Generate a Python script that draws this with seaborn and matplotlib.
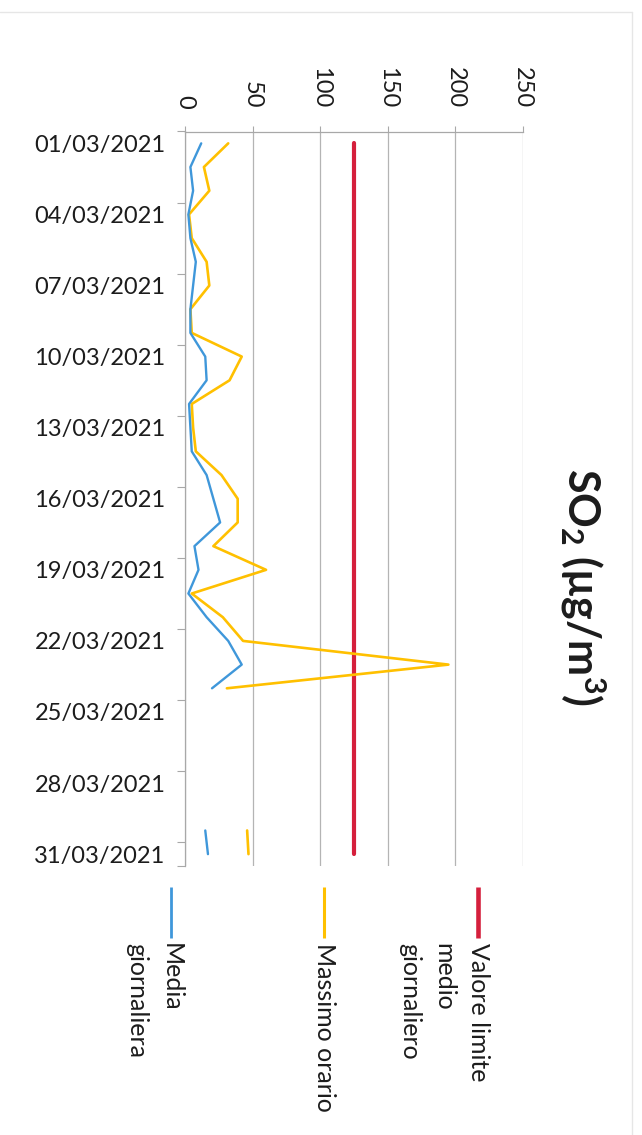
import numpy as np
import pandas as pd
import matplotlib
matplotlib.use("Agg")
import matplotlib.pyplot as plt
from matplotlib.lines import Line2D
import seaborn as sns

# ---- data -------------------------------------------------------------
day_idx = list(range(1, 32))
date_labels = [f"{d:02d}/03/2021" for d in day_idx]

massimo_orario = [32, 14, 18, 3, 5, 16, 18, 4, 5, 42, 33, 5, 6, 8, 27, 39,
                  39, 21, 60, 5, 28, 43, 195, 31,
                  np.nan, np.nan, np.nan, np.nan, np.nan, 46, 47]
media_giornaliera = [12, 4, 6, 2.5, 4, 8, 6, 4, 4, 15, 16, 3, 4, 5, 16, 21,
                     26, 7, 10, 2.5, 16, 32, 42, 20,
                     np.nan, np.nan, np.nan, np.nan, np.nan, 15, 17]
valore_limite = [125] * 31

series_names = ["Valore limite\nmedio\ngiornaliero", "Massimo orario",
                "Media\ngiornaliera"]
series_colors = ["#D51F3C", "#FFC000", "#3F97DA"]
series_widths = [3.0, 1.9, 1.7]
value_ticks = [0, 50, 100, 150, 200, 250]


def long_form(values):
    s = pd.Series(values, dtype=float)
    seg = s.isna().cumsum()
    df = pd.DataFrame({"day": day_idx, "value": s.values, "segment": seg.values})
    return df.dropna()


# ---- style ------------------------------------------------------------
sns.set_theme(style="white")
plt.rcParams["font.family"] = ["Lato", "DejaVu Sans"]
plt.rcParams["mathtext.fontset"] = "custom"
plt.rcParams["mathtext.rm"] = "Lato"
plt.rcParams["mathtext.bf"] = "Lato:bold"
text_color = "#1c1c1c"
axis_gray = "#a8a8a8"

W, H = 642, 1135
fig = plt.figure(figsize=(W / 100, H / 100), dpi=100)
fig.patch.set_facecolor("white")

ax = fig.add_axes([185 / W, 1 - 866 / H, (522.7 - 185) / W, (866 - 131.5) / H])

for values, color, lw in zip([valore_limite, massimo_orario, media_giornaliera],
                             series_colors, series_widths):
    sns.lineplot(data=long_form(values), x="value", y="day", units="segment",
                 estimator=None, orient="y", sort=True, color=color,
                 linewidth=lw, ax=ax, legend=False)

ax.set_xlim(0, 250)
ax.set_ylim(31.5, 0.5)
ax.set_xlabel("")
ax.set_ylabel("")

# value axis along the top, labels turned
ax.xaxis.tick_top()
ax.set_xticks(value_ticks)
ax.set_xticklabels([str(v) for v in value_ticks])
ax.tick_params(axis="x", top=True, bottom=False, labeltop=True,
               labelbottom=False, rotation=-90, length=4.5, width=0.8,
               color=axis_gray, pad=12, labelsize=17, labelcolor=text_color)

# date axis on the left: labels every three days, ticks between categories
ax.set_yticks(day_idx[::3])
ax.set_yticklabels(date_labels[::3])
ax.set_yticks(list(np.arange(0.5, 31, 3)) + [31.5], minor=True)
ax.tick_params(axis="y", which="major", left=True, length=0, pad=14,
               labelsize=17, labelcolor=text_color)
ax.tick_params(axis="y", which="minor", left=True, length=5.5, width=0.8,
               color=axis_gray)

ax.grid(axis="x", color="#b4b4b4", linewidth=0.9)
ax.grid(axis="y", visible=False)
ax.set_axisbelow(True)
for side in ["right", "bottom"]:
    ax.spines[side].set_visible(False)
for side in ["left", "top"]:
    ax.spines[side].set_color(axis_gray)
    ax.spines[side].set_linewidth(0.9)

# title
fig.text(583 / W, 1 - 587 / H, r"SO$_\mathbf{2}$ (µg/m$^\mathbf{3}$)",
         rotation=-90, ha="center", va="center", fontsize=31,
         fontweight="bold", color=text_color)

# legend below the plot, turned like the rest of the chart
legend_x = [478, 324, 171]
for x, name, color, lw in zip(legend_x, series_names, series_colors,
                              series_widths):
    fig.add_artist(Line2D([x / W, x / W], [1 - 887 / H, 1 - 938 / H],
                          transform=fig.transFigure, color=color,
                          linewidth=lw + 0.3, solid_capstyle="butt"))
    fig.text((x + 12) / W, 1 - 943 / H, name, rotation=-90,
             rotation_mode="anchor", ha="left", va="top", fontsize=18,
             linespacing=1.6, color=text_color)

# faint chart frame
frame = "#e6e6e6"
fig.add_artist(Line2D([0, 632 / W], [1 - 12 / H, 1 - 12 / H],
                      transform=fig.transFigure, color=frame, linewidth=1))
fig.add_artist(Line2D([632 / W, 632 / W], [1 - 12 / H, 0],
                      transform=fig.transFigure, color=frame, linewidth=1))

fig.savefig("out.png", dpi=100, facecolor="white")
